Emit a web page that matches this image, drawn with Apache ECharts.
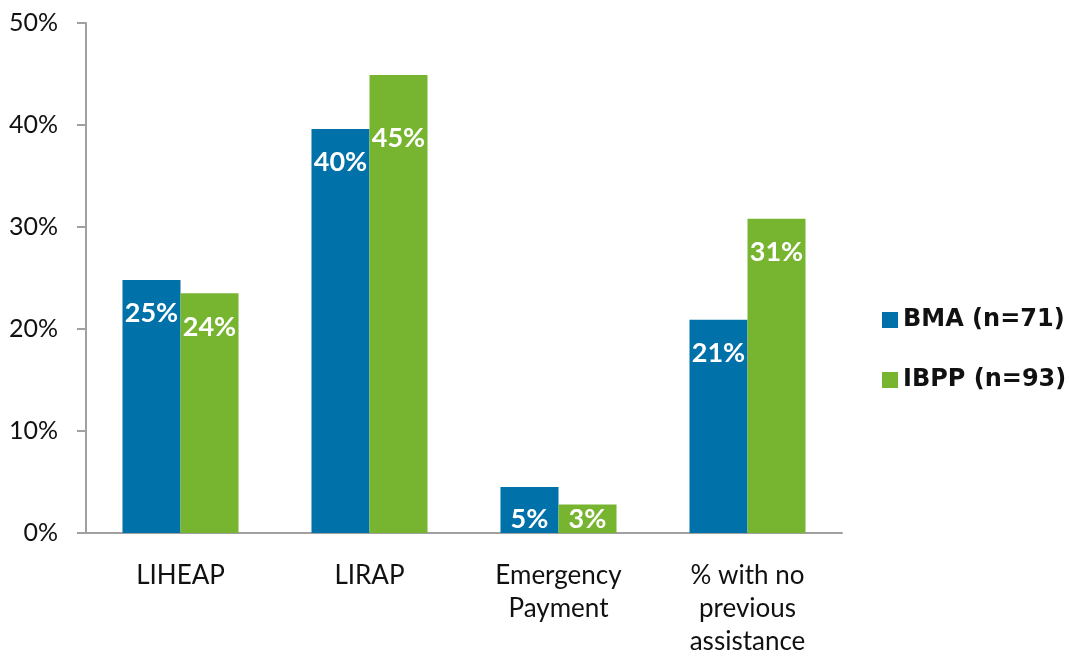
<!DOCTYPE html>
<html>
<head>
<meta charset="utf-8">
<style>
  html, body { margin: 0; padding: 0; background: #ffffff; }
  #chart { width: 1069px; height: 658px; }
</style>
<script src="https://cdn.jsdelivr.net/npm/echarts@6/dist/echarts.min.js"></script>
</head>
<body>
<div id="chart"></div>
<script>
// Assistance programs received, by group (percent of respondents)
const categories = ['LIHEAP', 'LIRAP', 'Emergency\nPayment', '% with no\nprevious\nassistance'];
const seriesNames = ['BMA (n=71)', 'IBPP (n=93)'];
const bmaValues = [24.8, 39.6, 4.5, 20.9];
const ibppValues = [23.5, 44.9, 2.8, 30.8];
const yTicks = [0, 10, 20, 30, 40, 50];

const BLUE = '#0171a9';
const GREEN = '#77b530';
const AXIS_GREY = '#a0a0a0';
const BODY_FONT = 'Lato, "Open Sans", sans-serif';

// Value labels sit just inside the bar top; short bars put them at the base.
function labelFor(seriesIdx, catIdx, value) {
  const base = {
    show: true,
    color: '#ffffff',
    fontFamily: BODY_FONT,
    fontWeight: 'bold',
    fontSize: 27,
    lineHeight: 27,
    formatter: (p) => Math.round(p.value) + '%'
  };
  if (value < 10) return Object.assign(base, { position: 'insideBottom', distance: 0 });
  if (seriesIdx === 1 && catIdx === 1) return Object.assign(base, { position: 'insideTop', distance: 50 });
  return Object.assign(base, { position: 'insideTop', distance: 20 });
}

function buildData(values, seriesIdx) {
  return values.map((v, i) => ({ value: v, label: labelFor(seriesIdx, i, v) }));
}

const chart = echarts.init(document.getElementById('chart'), null, { renderer: 'canvas' });

chart.setOption({
  animation: false,
  backgroundColor: '#ffffff',
  grid: { left: 86, right: 227, top: 23, bottom: 121, containLabel: false },
  legend: {
    orient: 'vertical',
    left: 877,
    top: 303,
    itemWidth: 16,
    itemHeight: 16,
    itemGap: 36,
    icon: 'rect',
    data: seriesNames,
    textStyle: {
      fontFamily: '"DejaVu Sans", sans-serif',
      fontWeight: 'bold',
      fontSize: 24,
      lineHeight: 24,
      color: '#111111'
    }
  },
  xAxis: {
    type: 'category',
    data: categories,
    axisLine: { show: true, lineStyle: { color: AXIS_GREY, width: 2 } },
    axisTick: { show: false },
    axisLabel: {
      interval: 0,
      margin: 26,
      color: '#111111',
      fontFamily: BODY_FONT,
      fontSize: 26,
      lineHeight: 33
    }
  },
  yAxis: {
    type: 'value',
    min: yTicks[0],
    max: yTicks[yTicks.length - 1],
    interval: yTicks[1] - yTicks[0],
    axisLine: { show: true, lineStyle: { color: AXIS_GREY, width: 2 } },
    axisTick: { show: true, length: 9, lineStyle: { color: AXIS_GREY, width: 2 } },
    splitLine: { show: false },
    axisLabel: {
      margin: 28,
      padding: [8, 0, 0, 0],
      color: '#111111',
      fontFamily: BODY_FONT,
      fontSize: 25,
      formatter: '{value}%'
    }
  },
  series: [
    {
      name: seriesNames[0],
      type: 'bar',
      data: buildData(bmaValues, 0),
      itemStyle: { color: BLUE },
      barGap: '0%',
      barCategoryGap: '38.6%'
    },
    {
      name: seriesNames[1],
      type: 'bar',
      data: buildData(ibppValues, 1),
      itemStyle: { color: GREEN },
      barGap: '0%',
      barCategoryGap: '38.6%'
    }
  ]
});
</script>
</body>
</html>
